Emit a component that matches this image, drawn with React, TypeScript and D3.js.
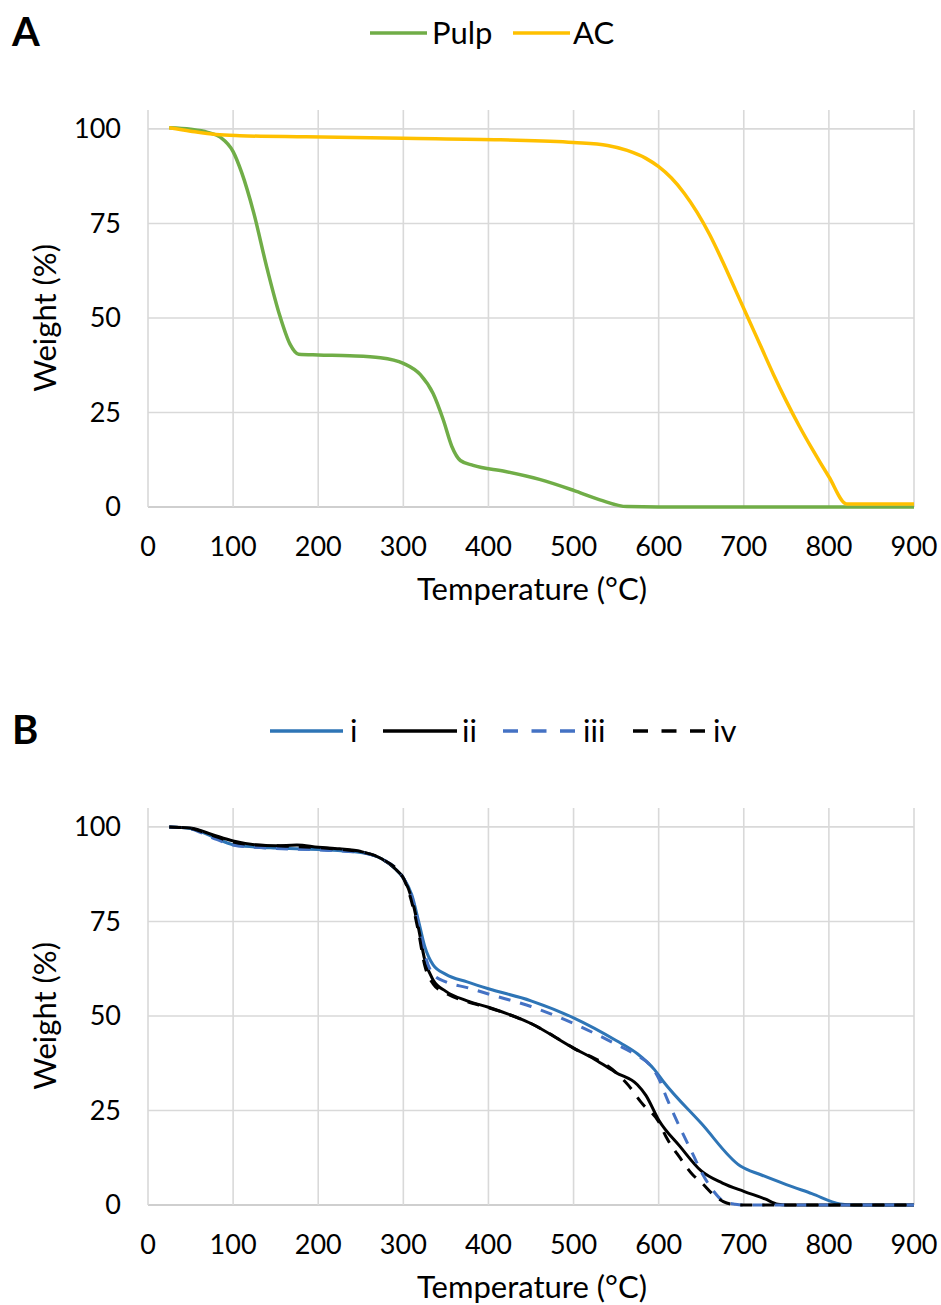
import React from 'react';
import * as d3 from 'd3';

const xTicks = [0, 100, 200, 300, 400, 500, 600, 700, 800, 900];
const yTicks = [0, 25, 50, 75, 100];

const pulp: [number, number][] = [[25,100.3],[50,99.9],[70,99.1],[85,97.8],[100,94],[110,88.5],[124,78],[140,63],[155,50.5],[167,43],[177,40.4],[200,40.2],[237,40],[273,39.5],[300,38],[320,35],[335,30],[347,23],[357,16],[367,12.3],[382,11],[420,9.4],[460,7.3],[500,4.4],[531,1.9],[563,0.1],[600,0],[900,0]];
const ac: [number, number][] = [[25,100.3],[50,99.4],[80,98.5],[108,98.2],[186,97.9],[300,97.5],[414,97.1],[500,96.4],[540,95.6],[563,94.3],[585,92.2],[600,90],[615,87],[630,83],[645,78],[660,72],[675,65],[690,57.5],[705,50],[720,42.5],[735,35],[750,28],[765,21.5],[780,15.5],[800,8],[821,0.8],[900,0.8]];

const seriesI: [number, number][] = [[25,100],[50,99.6],[75,97.5],[100,95.3],[125,94.7],[150,94.4],[200,94],[250,93.2],[275,91.5],[290,89],[300,86.5],[310,82],[318,75],[325,68.5],[335,63.5],[350,61],[375,59],[400,57.2],[450,54],[500,49.5],[550,43.5],[575,40],[595,35.8],[605,32.8],[650,21.6],[696,10.3],[720,8],[750,5.4],[780,3],[813,0.3],[830,0],[900,0]];
const seriesII: [number, number][] = [[25,100],[50,99.7],[75,98],[100,96.3],[125,95.3],[150,95],[175,95.2],[200,94.6],[225,94.2],[250,93.5],[275,91.5],[290,89],[300,86.5],[310,81],[318,73],[325,65],[335,59.5],[350,56.5],[375,54],[400,52.3],[450,48],[500,41.5],[525,38.5],[550,35],[575,31.8],[585,29],[600,22.5],[625,15.5],[650,9],[675,5.8],[700,3.6],[725,1.6],[740,0.2],[750,0],[900,0]];
const seriesIII: [number, number][] = [[25,100],[50,99.5],[75,97.2],[100,95.2],[125,94.6],[150,94.3],[200,93.9],[250,93.2],[275,91.5],[300,86.5],[310,81.5],[318,74],[325,66.5],[335,61],[350,59],[375,57.5],[400,55.8],[450,52.5],[500,48],[550,42.5],[575,39.5],[590,37],[600,33.5],[610,28],[625,20.5],[640,13.5],[652,8],[665,3.5],[676,1],[690,0.2],[700,0],[900,0]];
const seriesIV: [number, number][] = [[25,100],[50,99.6],[75,97.8],[100,96],[125,95.2],[150,95],[200,94.5],[250,93.4],[275,91.5],[300,86.5],[310,80],[318,72],[325,63.5],[335,58.5],[350,56],[375,53.8],[400,52.2],[450,48],[500,41.5],[550,35],[565,31.5],[580,27],[600,22],[610,17.5],[625,12.5],[640,8],[650,6],[665,2.6],[676,0.9],[690,0.1],[700,0],[900,0]];

const FONT = 'Lato, "Open Sans", sans-serif';

type Series = { name: string; data: [number, number][]; color: string; width: number; dash?: string; legendDash?: string };

const panelA: Series[] = [
  { name: 'Pulp', data: pulp, color: '#70AD47', width: 3.5 },
  { name: 'AC', data: ac, color: '#FFC000', width: 3.5 },
];
const panelB: Series[] = [
  { name: 'i', data: seriesI, color: '#2E75B6', width: 3 },
  { name: 'ii', data: seriesII, color: '#000000', width: 3 },
  { name: 'iii', data: seriesIII, color: '#4472C4', width: 3, dash: '12,10', legendDash: '15,13.5' },
  { name: 'iv', data: seriesIV, color: '#000000', width: 3, dash: '12,10', legendDash: '15,13.5' },
];

type LegendPos = { x: number; len: number; textX: number };

function Panel({ label, series, top, legend }: { label: string; series: Series[]; top: number; legend: LegendPos[] }) {
  const x = d3.scaleLinear().domain([0, 900]).range([148, 914]);
  const y = d3.scaleLinear().domain([0, 105]).range([top + 397, top]);
  const line = d3.line<[number, number]>().x(d => x(d[0])).y(d => y(d[1])).curve(d3.curveMonotoneX);
  const legendY = top - 77;
  return (
    <g>
      <text x={12} y={legendY + 13} fontFamily={FONT} fontWeight={700} fontSize={40} fill="#000">{label}</text>
      {series.map((s, i) => (
        <g key={s.name}>
          <line x1={legend[i].x} x2={legend[i].x + legend[i].len} y1={legendY} y2={legendY} stroke={s.color} strokeWidth={3.5} strokeDasharray={s.legendDash} />
          <text x={legend[i].textX} y={legendY} dy="0.35em" fontFamily={FONT} fontSize={31} fill="#000">{s.name}</text>
        </g>
      ))}
      {yTicks.map(t => (
        <line key={'h' + t} x1={148} x2={914} y1={y(t)} y2={y(t)} stroke={t === 0 ? '#bfbfbf' : '#d9d9d9'} strokeWidth={1.6} />
      ))}
      {xTicks.map(t => (
        <line key={'v' + t} x1={x(t)} x2={x(t)} y1={top} y2={y(0)} stroke="#d9d9d9" strokeWidth={1.6} />
      ))}
      {yTicks.map(t => (
        <text key={'yl' + t} x={121} y={y(t)} dy="0.35em" textAnchor="end" fontFamily={FONT} fontSize={27} fill="#000">{t}</text>
      ))}
      {xTicks.map(t => (
        <text key={'xl' + t} x={x(t)} y={y(0) + 40} dy="0.35em" textAnchor="middle" fontFamily={FONT} fontSize={27} fill="#000">{t}</text>
      ))}
      <text x={532} y={y(0) + 82} dy="0.35em" textAnchor="middle" fontFamily={FONT} fontSize={31} fill="#000">Temperature (°C)</text>
      <text transform={`translate(45,${(y(0) + y(100)) / 2}) rotate(-90)`} dy="0.35em" textAnchor="middle" fontFamily={FONT} fontSize={31} fill="#000">Weight (%)</text>
      {series.map(s => (
        <path key={'p' + s.name} d={line(s.data) || ''} fill="none" stroke={s.color} strokeWidth={s.width} strokeDasharray={s.dash} strokeLinejoin="round" />
      ))}
    </g>
  );
}

export default function App() {
  return (
    <svg width={941} height={1305} style={{ position: 'absolute', left: 0, top: 0, background: '#fff' }}>
      <rect width={941} height={1305} fill="#fff" />
      <Panel label="A" series={panelA} top={110} legend={[{ x: 370, len: 57, textX: 432 }, { x: 513, len: 57, textX: 573 }]} />
      <Panel label="B" series={panelB} top={808} legend={[{ x: 270, len: 73, textX: 350 }, { x: 383, len: 74, textX: 462 }, { x: 503, len: 72, textX: 583 }, { x: 633, len: 72, textX: 713 }]} />
    </svg>
  );
}
